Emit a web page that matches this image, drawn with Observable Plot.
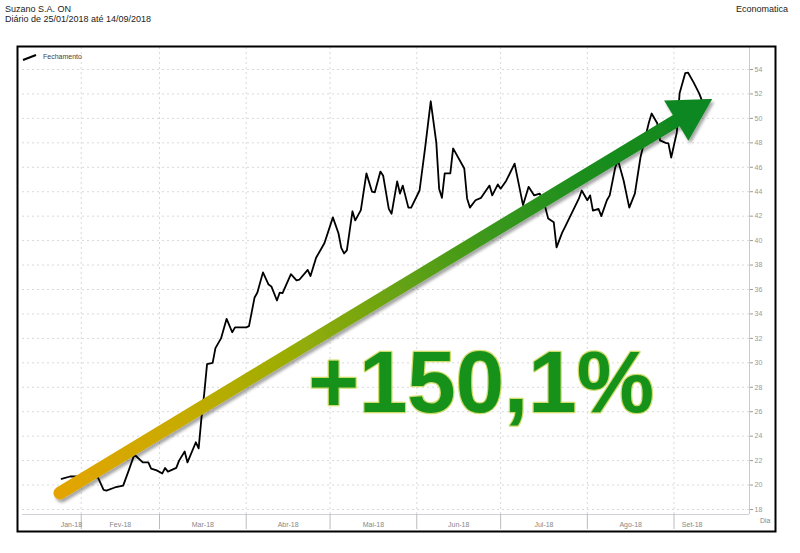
<!DOCTYPE html>
<html><head><meta charset="utf-8">
<script src="https://cdn.jsdelivr.net/npm/d3@7"></script>
<script src="https://cdn.jsdelivr.net/npm/@observablehq/plot@0.6"></script>
<style>
body{margin:0;background:#fff;font-family:"Liberation Sans",Arial,sans-serif;}
#wrap{position:relative;width:800px;height:553px;overflow:hidden;background:#fff}
#chart{position:absolute;left:0;top:0}
.t{position:absolute;font-size:9px;color:#222;white-space:nowrap;line-height:10px}
#legend{position:absolute;left:22px;top:52px;font-size:7px;color:#444;display:flex;align-items:center;gap:6px;line-height:9px}
#dia{position:absolute;left:760px;top:517px;font-size:7px;color:#888}
</style></head><body>
<div id="wrap">
<div id="chart"></div>
<div class="t" style="left:5px;top:4px">Suzano S.A. ON</div>
<div class="t" style="left:5px;top:14px">Diário de 25/01/2018 até 14/09/2018</div>
<div class="t" style="right:12px;top:4px">Economatica</div>
<div id="legend"><svg width="15" height="8"><line x1="1" y1="7" x2="14" y2="2" stroke="#000" stroke-width="2"/></svg><span>Fechamento</span></div>
<div id="dia">Dia</div>
</div>
<script>
const dates = ["2018-01-25","2018-01-28","2018-01-30","2018-02-04","2018-02-07","2018-02-09","2018-02-10","2018-02-13","2018-02-16","2018-02-18","2018-02-20","2018-02-23","2018-02-25","2018-02-26","2018-02-28","2018-03-02","2018-03-03","2018-03-04","2018-03-07","2018-03-08","2018-03-10","2018-03-11","2018-03-14","2018-03-15","2018-03-16","2018-03-17","2018-03-18","2018-03-20","2018-03-21","2018-03-23","2018-03-25","2018-03-27","2018-03-28","2018-04-01","2018-04-02","2018-04-04","2018-04-05","2018-04-07","2018-04-09","2018-04-10","2018-04-12","2018-04-13","2018-04-14","2018-04-17","2018-04-19","2018-04-20","2018-04-23","2018-04-24","2018-04-26","2018-04-28","2018-04-29","2018-05-02","2018-05-04","2018-05-05","2018-05-06","2018-05-07","2018-05-09","2018-05-10","2018-05-12","2018-05-14","2018-05-16","2018-05-17","2018-05-19","2018-05-20","2018-05-22","2018-05-23","2018-05-25","2018-05-26","2018-05-27","2018-05-29","2018-05-30","2018-06-02","2018-06-04","2018-06-06","2018-06-08","2018-06-09","2018-06-10","2018-06-11","2018-06-13","2018-06-14","2018-06-18","2018-06-19","2018-06-20","2018-06-22","2018-06-24","2018-06-27","2018-06-28","2018-06-30","2018-07-01","2018-07-03","2018-07-06","2018-07-09","2018-07-11","2018-07-13","2018-07-15","2018-07-17","2018-07-18","2018-07-20","2018-07-21","2018-07-23","2018-07-24","2018-07-26","2018-07-29","2018-07-30","2018-08-01","2018-08-02","2018-08-03","2018-08-05","2018-08-06","2018-08-08","2018-08-09","2018-08-11","2018-08-12","2018-08-14","2018-08-16","2018-08-18","2018-08-20","2018-08-23","2018-08-24","2018-08-26","2018-08-27","2018-08-29","2018-08-30","2018-08-31","2018-09-02","2018-09-03","2018-09-05","2018-09-06","2018-09-08","2018-09-10","2018-09-11","2018-09-14"];
const closes = [20.5,20.7,20.7,20.7,20.6,19.6,19.55,19.8,19.95,21.2,22.5,21.85,21.85,21.35,21.2,20.95,21.4,21.1,21.4,22.0,22.75,21.85,23.5,23.0,25.5,27.5,29.9,30.0,31.2,32.0,33.6,32.5,32.9,32.9,33.0,35.35,35.75,37.4,36.4,36.25,35.1,35.75,35.7,37.25,36.75,36.8,37.6,37.1,38.6,39.4,39.8,41.9,40.6,39.4,38.95,39.2,42.4,41.65,42.5,45.5,44.0,43.95,45.65,45.3,42.6,42.2,44.85,43.85,44.5,42.7,42.7,44.1,47.6,51.4,48.0,44.25,43.5,45.5,45.5,47.55,45.9,43.45,42.7,43.3,43.5,44.5,43.7,44.6,44.25,44.9,46.3,42.9,44.4,43.7,43.85,42.7,41.8,41.5,39.45,40.65,41.1,42.05,43.45,44.1,43.3,43.7,42.45,42.6,42.0,43.3,43.7,46.0,46.55,44.9,42.7,43.85,46.8,49.65,50.4,49.6,48.2,48.0,47.95,46.8,48.85,52.05,53.7,53.75,52.95,52.05,51.45,51.5];
const yTicks = [18,20,22,24,26,28,30,32,34,36,38,40,42,44,46,48,50,52,54];
const monthStarts = ["2018-01-01","2018-02-01","2018-03-01","2018-04-01","2018-05-01","2018-06-01","2018-07-01","2018-08-01","2018-09-01","2018-10-01"];
const monthLabels = ["Jan-18","Fev-18","Mar-18","Abr-18","Mai-18","Jun-18","Jul-18","Ago-18","Set-18"];
const xDomainDates = ["2018-01-11","2018-09-28"];
const yDomainValues = [17.59, 55.8];
const bigLabel = "+150,1%";
const bigLabelAt = {date:"2018-06-24", value:25.94};
const arrowFrom = {date:"2018-01-24T14:00", value:19.31};
const arrowTo = {date:"2018-09-14T20:00", value:51.55};

const parse = s => new Date(s.length > 10 ? s + "Z" : s + "T00:00Z");
const data = dates.map((d,i)=>({date: parse(d), close: closes[i]}));
const xDomain = xDomainDates.map(parse);
const first = data[0].date, last = data[data.length-1].date;
const ms = monthStarts.map(parse);
const gridMonths = ms.slice(1, 9);
const labelDates = monthLabels.map((m,i)=>{
  const a = Math.max(+ms[i], +first), b = Math.min(+ms[i+1], +last);
  return new Date((a+b)/2);
});

const chart = Plot.plot({
  width:800, height:553,
  marginLeft:22, marginRight:51, marginTop:47, marginBottom:39,
  x:{type:"utc", domain:xDomain, axis:null, label:null},
  y:{domain:yDomainValues, axis:null, label:null},
  style:{fontFamily:"'Liberation Sans', Arial, sans-serif", background:"transparent", overflow:"visible"},
  marks:[
    Plot.gridY(yTicks, {stroke:"#d9d9d9", strokeOpacity:1, strokeDasharray:"2,3"}),
    Plot.gridX(gridMonths, {stroke:"#d9d9d9", strokeOpacity:1, strokeDasharray:"2,3"}),
    Plot.ruleY([yDomainValues[0]], {stroke:"#cfcfd8"}),
    Plot.ruleX([xDomain[1]], {stroke:"#c8c8d8"}),
    Plot.axisY(yTicks, {anchor:"right", tickSize:3, tickPadding:2, fontSize:7, color:"#999", tickFormat:d=>String(d)}),
    Plot.axisX(gridMonths, {anchor:"bottom", tickSize:15, tickFormat:()=>"", color:"#bbb"}),
    Plot.text(monthLabels, {x:labelDates, text:d=>d, frameAnchor:"bottom", dy:12, fontSize:7, fill:"#888"}),
    Plot.line(data, {x:"date", y:"close", stroke:"#000", strokeWidth:1.8}),
    Plot.text([bigLabel], {x:()=>parse(bigLabelAt.date), y:()=>bigLabelAt.value, text:d=>d, lineAnchor:"bottom", textAnchor:"middle", fontSize:87, fontWeight:"bold", fill:"#16921a", stroke:"#cfdc6a", strokeWidth:2.5, paintOrder:"stroke", ariaLabel:"big-label"}),
    Plot.frame({stroke:"#000", strokeWidth:2, insetLeft:-5, insetRight:-26, insetTop:-1, insetBottom:-17})
  ]
});
document.getElementById("chart").appendChild(chart);

const svg = d3.select(chart);
const defs = svg.append("defs");
// drop shadow for the big label
const tf = defs.append("filter").attr("id","textShadow").attr("x","-5%").attr("y","-10%").attr("width","115%").attr("height","130%");
tf.append("feDropShadow").attr("dx",3).attr("dy",3).attr("stdDeviation",1.5).attr("flood-color","#000").attr("flood-opacity",0.35);
svg.selectAll("g").filter(function(){ return this.getAttribute("aria-label") === "big-label"; }).attr("filter","url(#textShadow)");

// Arrow annotation, positioned through the plot's scales
const sx = chart.scale("x"), sy = chart.scale("y");
const x0 = sx.apply(parse(arrowFrom.date)), y0 = sy.apply(arrowFrom.value);
const x1 = sx.apply(parse(arrowTo.date)), y1 = sy.apply(arrowTo.value);
const len = Math.hypot(x1-x0, y1-y0), ux = (x1-x0)/len, uy = (y1-y0)/len;
const nx = -uy, ny = ux;
const headL = 42, headW = 23.5, shaftW = 13;
const bx = x1 - headL*ux, by = y1 - headL*uy;
const g = defs.append("linearGradient").attr("id","arrowGrad").attr("gradientUnits","userSpaceOnUse")
  .attr("x1",x0).attr("y1",y0).attr("x2",x1).attr("y2",y1);
[[0,"#e3a400"],[0.18,"#c9ab00"],[0.35,"#9aad05"],[0.5,"#6ca412"],[0.65,"#3d981a"],[0.8,"#1c8e1e"],[1,"#0c8620"]]
  .forEach(([o,c])=>g.append("stop").attr("offset",o).attr("stop-color",c));
const f = defs.append("filter").attr("id","arrowShadow").attr("x","-5%").attr("y","-5%").attr("width","115%").attr("height","115%");
f.append("feDropShadow").attr("dx",2).attr("dy",3).attr("stdDeviation",1.6).attr("flood-color","#000").attr("flood-opacity",0.35);
const ag = svg.append("g").attr("filter","url(#arrowShadow)");
ag.append("line").attr("x1",x0).attr("y1",y0).attr("x2",bx+2*ux).attr("y2",by+2*uy)
  .attr("stroke","url(#arrowGrad)").attr("stroke-width",shaftW).attr("stroke-linecap","round");
ag.append("path").attr("d",`M${x1},${y1}L${bx+headW*nx},${by+headW*ny}L${bx-headW*nx},${by-headW*ny}Z`)
  .attr("fill","#0e8720");
</script>
</body></html>
